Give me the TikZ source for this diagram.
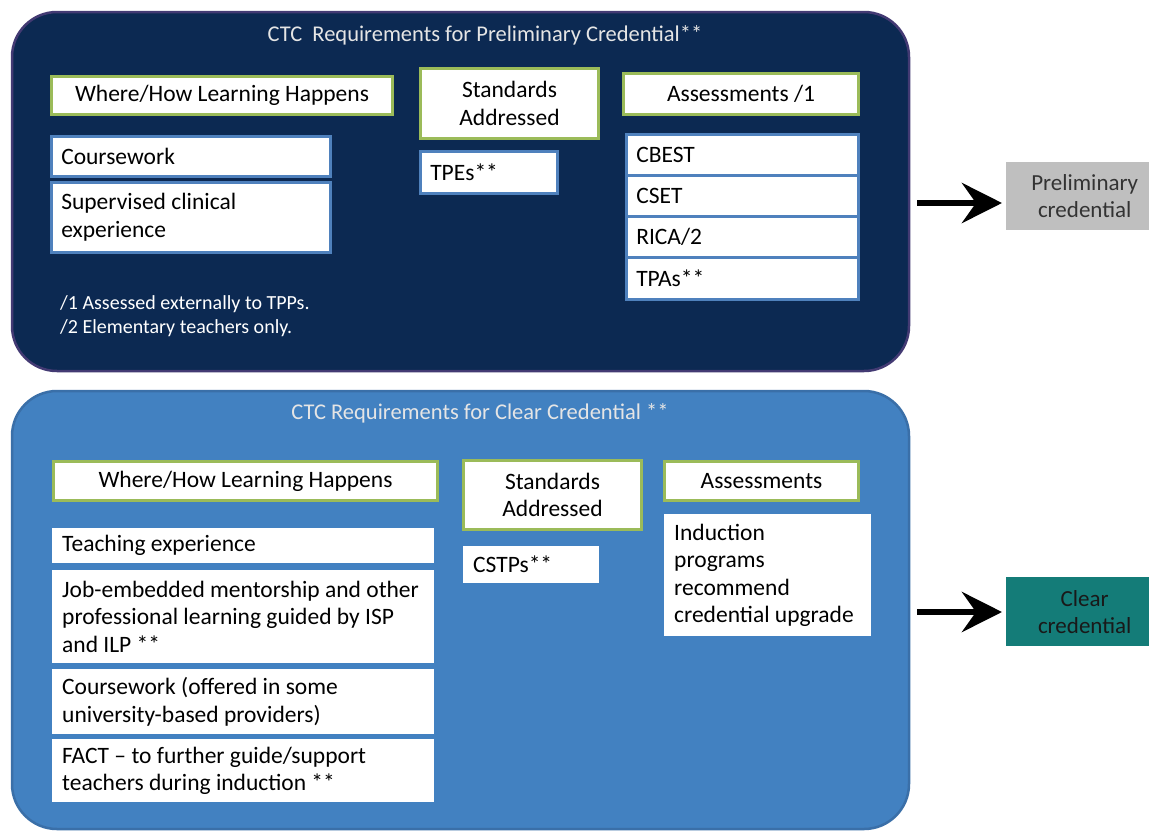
\documentclass[tikz,border=0pt]{standalone}
\usepackage{fontspec}
\setmainfont{Carlito}
\usepackage{tikz}
\usetikzlibrary{arrows.meta}
\definecolor{navy}{HTML}{0C2952}
\definecolor{navyrim}{HTML}{433A73}
\definecolor{sky}{HTML}{4281C1}
\definecolor{skyrim}{HTML}{3A6FA8}
\definecolor{olive}{HTML}{9BBB59}
\definecolor{rim}{HTML}{4F81BD}
\definecolor{credgray}{HTML}{BFBFBF}
\definecolor{credteal}{HTML}{147C78}
\tikzset{
  panel/.style={rounded corners=45pt, line width=2.5pt},
  ttl/.style={text=black!10, font=\fontsize{22.5}{27}\selectfont},
  hd/.style={draw=olive, line width=3pt, fill=white, anchor=north west, align=center, inner sep=0pt, font=\fontsize{23.5}{27.5}\selectfont},
  bx/.style={fill=white, anchor=north west, align=flush left, inner xsep=10pt, inner ysep=0pt, font=\fontsize{23.5}{27.5}\selectfont},
  rimbx/.style={bx, draw=rim, line width=2.5pt},
  cred/.style={anchor=north west, align=center, inner sep=0pt, minimum width=157pt, font=\fontsize{23}{27}\selectfont},
  arr/.style={line width=6.5pt, -{Stealth[length=40pt, width=40pt, inset=14pt]}, shorten >=4pt}
}
\begin{document}
\begin{tikzpicture}[x=1pt, y=-1pt]
  \useasboundingbox (0,0) rectangle (1149,831);
  \fill[white] (0,0) rectangle (1149,831);
  \draw[panel, fill=navy, draw=navyrim] (12,12) rectangle (909,371);
  \draw[panel, fill=sky, draw=skyrim] (12,391) rectangle (909,829);

  \node[ttl] (t1) at (485,35) {CTC\ \ Requirements for Preliminary Credential**};
  \node[hd, minimum width=341pt, minimum height=38pt] (h11) at (50,75) {Where/How Learning Happens};
  \node[hd, minimum width=178pt, minimum height=70pt] (h12) at (419,67) {Standards\\Addressed};
  \node[hd, minimum width=235pt, minimum height=41pt] (h13) at (622,72) {Assessments /1};
  \node[rimbx, text width=259pt, minimum height=40pt] (b11) at (50,135) {Coursework};
  \node[rimbx, text width=259pt, minimum height=70pt] (b12) at (50,181) {Supervised clinical\\experience};
  \node[rimbx, text width=117pt, minimum height=42pt] (b13) at (419,150) {TPEs**};
  \node[rimbx, text width=212pt, minimum height=41pt] (b14) at (625,133) {CBEST};
  \node[rimbx, text width=212pt, minimum height=41pt] (b15) at (625,174) {CSET};
  \node[rimbx, text width=212pt, minimum height=41pt] (b16) at (625,215) {RICA/2};
  \node[rimbx, text width=212pt, minimum height=42pt] (b17) at (625,256) {TPAs**};
  \node[anchor=north west, align=left, text=white, inner sep=0pt, font=\fontsize{20}{24}\selectfont] (fn) at (60,295)
    {/1 Assessed externally to TPPs.\\/2 Elementary teachers only.};

  \node[ttl] (t2) at (480,413) {CTC Requirements for Clear Credential **};
  \node[hd, minimum width=384pt, minimum height=39pt] (h21) at (52,460) {Where/How Learning Happens};
  \node[hd, minimum width=178pt, minimum height=69pt] (h22) at (462,459) {Standards\\Addressed};
  \node[hd, minimum width=194pt, minimum height=39pt] (h23) at (663,460) {Assessments};
  \node[bx, text width=362pt, minimum height=35pt] (b21) at (52,528) {Teaching experience};
  \node[bx, text width=362pt, minimum height=93pt] (b22) at (52,570) {Job-embedded mentorship and other\\professional learning guided by ISP\\and ILP **};
  \node[bx, text width=362pt, minimum height=65pt] (b23) at (52,669) {Coursework (offered in some\\university-based providers)};
  \node[bx, text width=362pt, minimum height=63pt] (b24) at (52,739) {FACT -- to further guide/support\\teachers during induction **};
  \node[bx, text width=116pt, minimum height=37pt] (b25) at (463,546) {CSTPs**};
  \node[bx, text width=187pt, minimum height=122pt] (b26) at (664,514) {Induction\\programs\\recommend\\credential upgrade};

  \node[cred, fill=credgray, text=black!80, minimum height=68pt] (c1) at (1006,162) {Preliminary\\credential};
  \node[cred, fill=credteal, text=black!90, minimum height=69pt] (c2) at (1006,577) {Clear\\credential};
  \coordinate (a1) at (917,203);
  \coordinate (a2) at (917,612);
  \draw[arr] (a1) -- (a1 -| c1.west);
  \draw[arr] (a2) -- (a2 -| c2.west);
\end{tikzpicture}
\end{document}
